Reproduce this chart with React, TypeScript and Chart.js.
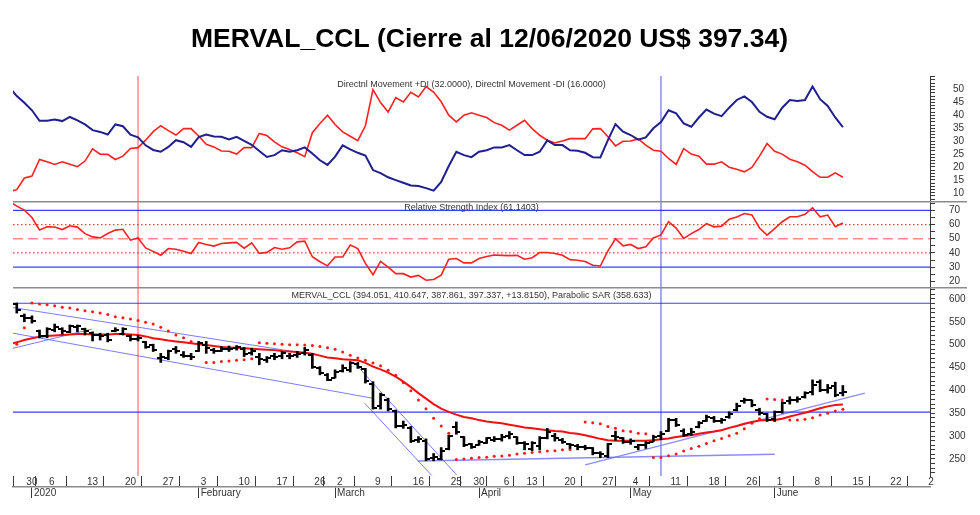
import React, { useEffect, useRef } from 'react';
import { Chart, registerables } from 'chart.js';

Chart.register(...registerables);

// ---------------- texts ----------------
const TITLE = 'MERVAL_CCL (Cierre al 12/06/2020 US$ 397.34)';
const DMI_LABEL = 'Directnl Movement +DI (32.0000), Directnl Movement -DI (16.0000)';
const RSI_LABEL = 'Relative Strength Index (61.1403)';
const PRICE_LABEL = 'MERVAL_CCL (394.051, 410.647, 387.861, 397.337, +13.8150), Parabolic SAR (358.633)';

// ---------------- x axis (trading days, index k) ----------------
const X_MIN = 0.5;
const X_MAX = 121.5;
const dates = [
  '26/12', '27/12', '30/12', '02/01', '03/01',
  '06/01', '07/01', '08/01', '09/01', '10/01', '13/01', '14/01', '15/01', '16/01', '17/01',
  '20/01', '21/01', '22/01', '23/01', '24/01', '27/01', '28/01', '29/01', '30/01', '31/01',
  '03/02', '04/02', '05/02', '06/02', '07/02', '10/02', '11/02', '12/02', '13/02', '14/02',
  '17/02', '18/02', '19/02', '20/02', '21/02', '26/02', '27/02', '28/02',
  '02/03', '03/03', '04/03', '05/03', '06/03', '09/03', '10/03', '11/03', '12/03', '13/03',
  '16/03', '17/03', '18/03', '19/03', '20/03', '25/03', '26/03', '27/03',
  '30/03', '01/04', '02/04', '03/04', '06/04', '07/04', '08/04',
  '13/04', '14/04', '15/04', '16/04', '17/04', '20/04', '21/04', '22/04', '23/04', '24/04',
  '27/04', '28/04', '29/04', '30/04',
  '04/05', '05/05', '06/05', '07/05', '08/05', '11/05', '12/05', '13/05', '14/05', '15/05',
  '18/05', '19/05', '20/05', '21/05', '22/05', '26/05', '27/05', '28/05', '29/05',
  '01/06', '02/06', '03/06', '04/06', '05/06', '08/06', '09/06', '10/06', '11/06', '12/06',
];
const dayTickIdx = [2, 5, 10, 15, 20, 25, 30, 35, 40, 43, 48, 53, 58, 61, 65, 68, 73, 78, 82, 87, 92, 97, 101, 106, 111, 116, 121];
const dayTickLabels = ['30', '6', '13', '20', '27', '3', '10', '17', '26', '2', '9', '16', '25', '30', '6', '13', '20', '27', '4', '11', '18', '26', '1', '8', '15', '22', '2'];
const monthTickIdx = [3, 25, 43, 62, 82, 101];
const monthTickLabels = ['2020', 'February', 'March', 'April', 'May', 'June'];

// ---------------- y ranges / tick labels ----------------
const DMI_MIN = 6.8, DMI_MAX = 55.3, DMI_MINOR = 1.25;
const dmiLabelVals = [10, 15, 20, 25, 30, 35, 40, 45, 50];
const RSI_MIN = 16, RSI_MAX = 76.6, RSI_MINOR = 5;
const rsiLabelVals = [20, 30, 40, 50, 60, 70];
const PX_MIN = 212.8, PX_MAX = 626, PX_MINOR = 10;
const priceLabelVals = [250, 300, 350, 400, 450, 500, 550, 600];

// ---------------- price (k = 1..110) ----------------
const priceOpen = [
  588, 563, 558, 530, 518, 533, 535, 528, 538, 535,
  525, 520, 522, 530, 524, 518, 512, 505, 499, 470,
  470, 490, 478, 476, 487, 500, 488, 487, 490, 492,
  490, 482, 472, 466, 476, 476, 475, 478, 482, 478,
  448, 433, 428, 442, 445, 458, 446, 415, 365, 380,
  355, 322, 318, 292, 290, 252, 250, 272, 320, 298,
  282, 280, 285, 292, 293, 300, 298, 284, 272, 278,
  296, 300, 292, 282, 278, 276, 273, 262, 256, 300,
  295, 288, 276, 280, 288, 300, 312, 336, 312, 304,
  320, 334, 340, 332, 342, 358, 376, 378, 358, 348,
  338, 352, 376, 380, 385, 396, 418, 400, 410, 394.051,
];
const priceHigh = [
  591, 567, 563, 532, 537, 545, 537, 543, 543, 536,
  528, 525, 525, 537, 537, 521, 520, 507, 501, 481,
  488, 496, 485, 481, 507, 507, 492, 496, 497, 498,
  494, 492, 481, 474, 481, 485, 481, 485, 494, 481,
  452, 437, 445, 456, 463, 461, 448, 419, 394, 383,
  357, 333, 321, 299, 294, 262, 275, 302, 331, 299,
  284, 291, 297, 299, 304, 310, 299, 288, 288, 299,
  317, 306, 295, 284, 282, 280, 275, 266, 284, 311,
  297, 294, 282, 288, 302, 310, 339, 339, 316, 317,
  332, 346, 343, 339, 353, 372, 383, 379, 361, 350,
  355, 375, 386, 386, 397, 423, 423, 413, 418, 410.647,
];
const priceLow = [
  569, 550, 547, 515, 515, 528, 523, 526, 528, 521,
  508, 510, 506, 528, 521, 508, 508, 492, 485, 461,
  467, 481, 472, 467, 485, 481, 481, 485, 485, 488,
  474, 477, 456, 461, 467, 469, 469, 472, 477, 448,
  434, 421, 427, 440, 440, 448, 416, 359, 359, 355,
  318, 317, 286, 286, 246, 246, 248, 270, 304, 277,
  273, 280, 284, 288, 289, 294, 282, 270, 268, 270,
  294, 289, 284, 273, 270, 270, 259, 253, 253, 291,
  284, 282, 270, 273, 288, 292, 310, 321, 299, 302,
  318, 332, 330, 328, 339, 355, 372, 364, 346, 332,
  332, 350, 370, 374, 383, 390, 397, 394, 386, 387.861,
];
const priceClose = [
  575, 558, 552, 518, 535, 538, 530, 540, 540, 530,
  520, 518, 510, 532, 535, 512, 515, 495, 488, 472,
  485, 485, 476, 474, 503, 492, 487, 490, 491, 494,
  480, 485, 468, 470, 474, 482, 476, 480, 488, 452,
  438, 423, 440, 450, 460, 452, 420, 362, 390, 360,
  322, 325, 290, 293, 250, 254, 268, 300, 310, 280,
  276, 288, 295, 294, 298, 304, 285, 282, 285, 296,
  310, 296, 288, 280, 276, 274, 263, 260, 282, 298,
  288, 290, 280, 285, 298, 305, 335, 324, 302, 310,
  328, 342, 334, 335, 348, 366, 378, 368, 350, 336,
  352, 372, 380, 382, 394, 412, 400, 406, 390, 397.337,
];
const parabolicSar = [
  501, 537, 591, 589, 587, 585, 582, 580, 577, 574,
  572, 569, 566, 561, 559, 556, 553, 549, 545, 538,
  530, 521, 515, 507, null, 461, 461, 463, 464, 466,
  467, 469, 504, 503, 502, 501, 500, 500, 499, 498,
  496, 493, 490, 484, 477, 471, 466, 460, 454, 444,
  433, 417, 399, 379, 360, 339, 322, 306, 249, 250,
  251.5, 253, 254, 256, 256.5, 258, 261, 262.5, 264, 266,
  267.5, 268, 270, 270.5, null, 331, 329, 327, 321, 317,
  312, 310, 306, 305, 253, 253, 257, 261, 267.5, 273,
  278, 284, 290, 295, 301, 306, 316, 328, 338, 381,
  380, 379, 335, 335, 337, 340, 346, 350, 355, 358.633,
];
// moving average, k = 0..110
const movingAvg = [
  501,
  505, 510, 514, 517, 519, 520, 521, 522, 523, 523,
  522, 522, 522, 523, 523, 522, 521, 518, 514, 512,
  509, 507, 505, 503, 501, 499, 497, 495, 494, 493,
  492, 491, 490, 489, 488, 486, 485, 484, 482, 480,
  476, 472, 470, 468, 467, 466, 460, 452, 446, 439,
  430, 419, 407, 394, 382, 370, 360, 353, 347, 342,
  339, 335, 332, 330, 328, 325, 322, 319, 317, 315,
  313, 311, 310, 307, 305, 302, 298, 294, 291, 290,
  290, 290, 290, 290, 291, 293, 295, 298, 300, 302,
  305, 308, 310, 313, 318, 322, 327, 331, 334, 335,
  335, 338, 343, 347, 351, 356, 361, 365, 368, 369,
];

// ---------------- DMI (k = 0..110) ----------------
const dmiPlus = [
  51,
  47.5, 44.9, 42, 37.9, 37.9, 38.4, 37.8, 39.4, 38.1, 36.5,
  34.3, 33.6, 32.6, 36.5, 35.8, 32.5, 31.5, 28.4, 26.6, 25.9,
  27.8, 30.4, 29.6, 27.8, 31.6, 32.6, 31.8, 31.7, 30.7, 31.7,
  30.1, 28.6, 26.2, 23.9, 24.6, 26.5, 25.9, 26.5, 27.6, 25.2,
  22.6, 20.8, 24, 28.4, 26.8, 25.5, 24.4, 18.8, 17.6, 16,
  14.9, 13.9, 12.8, 12.6, 11.8, 10.8, 14.2, 20.4, 25.9, 24.6,
  23.8, 25.9, 26.5, 27.6, 27.6, 28.5, 26.5, 24.6, 24.6, 25.9,
  30.3, 28.5, 28.5, 26.5, 26.3, 25.5, 23.8, 23.7, 30.4, 36.6,
  33.7, 32.4, 30.6, 31.5, 35, 37.4, 42, 40.8, 36.9, 35.6,
  39.2, 42.3, 40.7, 39.7, 43, 46, 47.4, 45.2, 41.4, 39.5,
  38.5, 43, 46, 45.6, 46, 51.2, 46.3, 43.7, 39.2, 35.5,
];
const dmiMinus = [
  10.5,
  11.2, 15.7, 16.5, 22.9, 22, 21, 22, 21.1, 20.1, 22.3,
  27, 25, 24.9, 22.9, 24.2, 27.2, 27.5, 30.4, 33.7, 36,
  34.1, 32.4, 34.9, 34.9, 32, 28.8, 27.8, 26.2, 26.1, 25,
  27.5, 27.5, 33, 32.2, 29.7, 27.8, 26.8, 25.5, 24, 33.3,
  36.9, 40.1, 36.5, 33.6, 31.9, 30.2, 36, 50, 45, 41.3,
  46.9, 45.2, 49, 47.2, 51.2, 49.1, 45.3, 40.1, 37.5, 40.1,
  41, 40.1, 39.2, 37.2, 36.2, 34.3, 36.2, 38.1, 34.9, 32.3,
  30.4, 29.3, 30.1, 31, 31, 31, 34.8, 34.9, 31.7, 28.2,
  30, 30.1, 30.9, 28.5, 26.5, 26.1, 23.3, 21, 27.1, 25,
  24.2, 21.1, 21.1, 22, 19.9, 19.1, 18.1, 19.8, 24.2, 29.1,
  26.1, 25, 23, 22, 20.7, 18.2, 16, 16, 17.7, 16,
];

// ---------------- RSI (k = 0..110) ----------------
const rsi = [
  76.5,
  73, 70.2, 65, 56.2, 58.4, 58.3, 56.5, 59.1, 58.2, 53.6,
  51.3, 50.6, 53.7, 56.1, 56.7, 49, 50.5, 43.5, 41.1, 38.4,
  43.1, 42.6, 41.2, 39.6, 47.4, 46, 44.8, 46.7, 47.1, 47.4,
  43.3, 47.1, 39.7, 40.4, 43.8, 42.6, 43.6, 47.8, 48.3, 37.3,
  33.8, 30.9, 37.1, 37.2, 45.5, 43.1, 32.6, 24.7, 34, 30,
  25.4, 25.4, 23, 24.2, 20.8, 21.3, 24.4, 35.6, 36.1, 33,
  33, 36.1, 37.5, 38.5, 38.3, 38.1, 38.3, 35.6, 36.6, 40.3,
  40.3, 39.6, 38.4, 35.3, 34.9, 34, 31.3, 30.8, 41.5, 50,
  45, 46, 43.1, 44.3, 50.6, 52.7, 62, 57.5, 50.3, 53.6,
  56.5, 60.7, 58.4, 58.9, 63.7, 65.4, 67.8, 66.8, 57.6, 52.5,
  57.2, 62, 65.5, 65.5, 67.2, 71.8, 65.5, 66.7, 58.5, 61.1,
];
const rsiSolidLevels = [70, 30];
const rsiDottedLevels = [60, 40];
const rsiMidLevel = 50;

// ---------------- drawn studies ----------------
const redMarkK = 17;
const blueMarkK = 86;
const priceLevels = [590.5, 352.5];
const channelUpper = [[0.5, 581], [39.4, 480]];
const channelLower = [[0.5, 525], [47.9, 383]];
const shortRise = [[0.5, 492], [10.9, 534]];
const crashUpper = [[45.4, 463], [59.05, 215]];
const crashLower = [[46.9, 372], [55.75, 214]];
const supportFlat = [[53.9, 245.6], [101, 260.5]];
const supportRise = [[76, 237], [112.9, 394]];

// ---------------- helpers ----------------
const FONT = "'Liberation Sans', Arial, sans-serif";
const AXIS_COL = '#3a3a3a';

const pts = (arr: (number | null)[], start: number) => arr.map((v, j) => ({ x: j + start, y: v }));
const seg = (p: number[][]) => p.map(([x, y]) => ({ x, y }));
const hLine = (v: number) => [{ x: X_MIN, y: v }, { x: X_MAX, y: v }];
const vLine = (k: number, lo: number, hi: number) => [{ x: k, y: lo }, { x: k, y: hi }];

const lineDs = (data: any[], color: string, width: number, extra: any = {}) => ({
  type: 'line',
  data,
  borderColor: color,
  backgroundColor: color,
  borderWidth: width,
  pointRadius: 0,
  tension: 0,
  fill: false,
  clip: 0,
  ...extra,
});

function tickImage(side: 'left' | 'right') {
  const c = document.createElement('canvas');
  c.width = 8;
  c.height = 2;
  const ctx = c.getContext('2d')!;
  ctx.fillStyle = '#000';
  if (side === 'left') ctx.fillRect(0, 0, 4, 2);
  else ctx.fillRect(4, 0, 4, 2);
  return c;
}

const noPad = (s: any) => {
  s.paddingTop = 0;
  s.paddingBottom = 0;
  s.paddingLeft = 0;
  s.paddingRight = 0;
};

function yRight(min: number, max: number, minor: number, labels: number[], pad: number) {
  return {
    type: 'linear',
    position: 'right',
    min,
    max,
    afterFit: (s: any) => { s.width = 36; noPad(s); },
    afterBuildTicks: (s: any) => {
      const t: any[] = [];
      for (let v = Math.ceil(min / minor) * minor; v <= max; v += minor) t.push({ value: Math.round(v * 1000) / 1000 });
      s.ticks = t;
    },
    ticks: {
      autoSkip: false,
      padding: pad,
      color: '#333',
      font: { family: FONT, size: 10 },
      callback: (v: any) => (labels.includes(Math.round(Number(v) * 1000) / 1000) ? String(v) : ''),
    },
    grid: { drawOnChartArea: false, drawTicks: true, tickLength: 5, tickColor: AXIS_COL, tickWidth: 1 },
    border: { display: true, color: AXIS_COL, width: 1 },
  };
}

const xHidden = () => ({ type: 'linear', min: X_MIN, max: X_MAX, display: false, offset: false });

function xTickAxis(idx: number[], labels: string[], height: number, weight: number, border: boolean) {
  return {
    type: 'linear',
    position: 'bottom',
    min: X_MIN,
    max: X_MAX,
    offset: false,
    weight,
    afterBuildTicks: (s: any) => { s.ticks = idx.map((v) => ({ value: v })); },
    afterFit: (s: any) => { s.height = height; noPad(s); },
    ticks: {
      autoSkip: false,
      maxRotation: 0,
      minRotation: 0,
      align: 'start',
      padding: -11,
      labelOffset: 2,
      color: '#333',
      font: { family: FONT, size: 10 },
      callback: (_v: any, i: number) => labels[i],
    },
    grid: { drawOnChartArea: false, drawTicks: true, tickLength: 11, tickColor: AXIS_COL, tickWidth: 1 },
    border: border ? { display: true, color: '#8a8a8a', width: 1.5 } : { display: false },
  };
}

const decor = {
  id: 'decor',
  afterDraw(chart: any, _args: any, opts: any) {
    const { ctx, chartArea } = chart;
    ctx.save();
    if (opts.topLine) {
      ctx.fillStyle = '#8c8c8c';
      ctx.fillRect(chartArea.left, chartArea.top, chart.width - 13 - chartArea.left, 1.5);
    }
    if (opts.label) {
      ctx.font = `9px ${FONT}`;
      ctx.fillStyle = '#333';
      ctx.textAlign = 'center';
      ctx.textBaseline = 'middle';
      ctx.fillText(opts.label, (chartArea.left + chartArea.right) / 2, chartArea.top + opts.labelY);
    }
    ctx.restore();
  },
};

const baseOptions = (extraPlugins: any) => ({
  responsive: false,
  animation: false,
  devicePixelRatio: 1,
  events: [],
  layout: { autoPadding: false, padding: { left: 13, right: 14, top: 0, bottom: 0 } },
  plugins: { legend: { display: false }, tooltip: { enabled: false }, ...extraPlugins },
});

const RED_MARK = 'rgba(255,90,90,0.7)';
const BLUE_MARK = 'rgba(90,90,255,0.7)';
const TREND = 'rgba(90,90,255,0.8)';
const LEVEL = 'rgba(40,40,255,0.9)';

function dmiConfig(): any {
  return {
    type: 'line',
    data: {
      datasets: [
        lineDs(pts(dmiPlus, 0), '#1f1f8f', 2),
        lineDs(pts(dmiMinus, 0), '#ff1f1f', 1.6),
        lineDs(vLine(redMarkK, DMI_MIN, DMI_MAX), RED_MARK, 1.5),
        lineDs(vLine(blueMarkK, DMI_MIN, DMI_MAX), BLUE_MARK, 1.5),
      ],
    },
    options: {
      ...baseOptions({
        title: {
          display: true,
          text: TITLE,
          color: '#000',
          font: { family: FONT, size: 26.5, weight: 'bold', lineHeight: 1.2 },
          padding: { top: 24, bottom: 20.2 },
        },
        decor: { label: DMI_LABEL, labelY: 9 },
      }),
      scales: { x: xHidden(), y: yRight(DMI_MIN, DMI_MAX, DMI_MINOR, dmiLabelVals, 18) },
    },
    plugins: [decor],
  };
}

function rsiConfig(): any {
  return {
    type: 'line',
    data: {
      datasets: [
        lineDs(pts(rsi, 0), '#ff2020', 1.6),
        ...rsiSolidLevels.map((v) => lineDs(hLine(v), LEVEL, 1.2)),
        ...rsiDottedLevels.map((v) => lineDs(hLine(v), 'rgba(255,40,40,0.9)', 1.2, { borderDash: [1.5, 2.5] })),
        lineDs(hLine(rsiMidLevel), 'rgba(255,120,120,0.85)', 1.5, { borderDash: [10, 5] }),
        lineDs(vLine(redMarkK, RSI_MIN, RSI_MAX), RED_MARK, 1.5),
        lineDs(vLine(blueMarkK, RSI_MIN, RSI_MAX), BLUE_MARK, 1.5),
      ],
    },
    options: {
      ...baseOptions({ decor: { label: RSI_LABEL, labelY: 7, topLine: true } }),
      scales: { x: xHidden(), y: yRight(RSI_MIN, RSI_MAX, RSI_MINOR, rsiLabelVals, 14) },
    },
    plugins: [decor],
  };
}

function priceConfig(): any {
  const openImg = tickImage('left');
  const closeImg = tickImage('right');
  return {
    type: 'line',
    data: {
      datasets: [
        {
          type: 'bar',
          data: priceHigh.map((h, j) => ({ x: j + 1, y: [priceLow[j], h] })),
          backgroundColor: '#000',
          borderWidth: 0,
          barThickness: 2,
          grouped: false,
        },
        { type: 'line', data: pts(priceOpen, 1), showLine: false, pointStyle: openImg, pointRadius: 3 },
        { type: 'line', data: pts(priceClose, 1), showLine: false, pointStyle: closeImg, pointRadius: 3 },
        lineDs(pts(movingAvg, 0), '#f01010', 2),
        {
          type: 'line',
          data: pts(parabolicSar, 1),
          showLine: false,
          pointRadius: 1.5,
          pointBackgroundColor: '#ff1a1a',
          pointBorderWidth: 0,
        },
        ...priceLevels.map((v) => lineDs(hLine(v), LEVEL, 1.2)),
        lineDs(seg(channelUpper), TREND, 1),
        lineDs(seg(channelLower), TREND, 1),
        lineDs(seg(shortRise), TREND, 1),
        lineDs(seg(crashUpper), TREND, 1),
        lineDs(seg(crashLower), TREND, 1),
        lineDs(seg(supportFlat), 'rgba(110,110,255,0.8)', 1.4),
        lineDs(seg(supportRise), 'rgba(110,110,255,0.8)', 1.2),
        lineDs(vLine(redMarkK, PX_MIN, PX_MAX), RED_MARK, 1.5),
        lineDs(vLine(blueMarkK, PX_MIN, PX_MAX), BLUE_MARK, 1.5),
      ],
    },
    options: {
      ...baseOptions({ decor: { label: PRICE_LABEL, labelY: 8.7, topLine: true } }),
      scales: {
        x: xTickAxis(dayTickIdx, dayTickLabels, 11, 0, false),
        x2: xTickAxis(monthTickIdx, monthTickLabels, 28, 1, true),
        y: yRight(PX_MIN, PX_MAX, PX_MINOR, priceLabelVals, 14),
      },
    },
    plugins: [decor],
  };
}

export default function App() {
  const dmiRef = useRef<HTMLCanvasElement>(null);
  const rsiRef = useRef<HTMLCanvasElement>(null);
  const priceRef = useRef<HTMLCanvasElement>(null);

  useEffect(() => {
    const charts = [
      new Chart(dmiRef.current!, dmiConfig()),
      new Chart(rsiRef.current!, rsiConfig()),
      new Chart(priceRef.current!, priceConfig()),
    ];
    return () => charts.forEach((c) => c.destroy());
  }, []);

  return (
    <div style={{ position: 'fixed', left: 0, top: 0, width: 980, height: 515, background: '#fff' }} data-dates={dates.length}>
      <canvas ref={dmiRef} width={980} height={201} style={{ position: 'absolute', left: 0, top: 0 }} />
      <canvas ref={rsiRef} width={980} height={86} style={{ position: 'absolute', left: 0, top: 201 }} />
      <canvas ref={priceRef} width={980} height={228} style={{ position: 'absolute', left: 0, top: 287 }} />
    </div>
  );
}
